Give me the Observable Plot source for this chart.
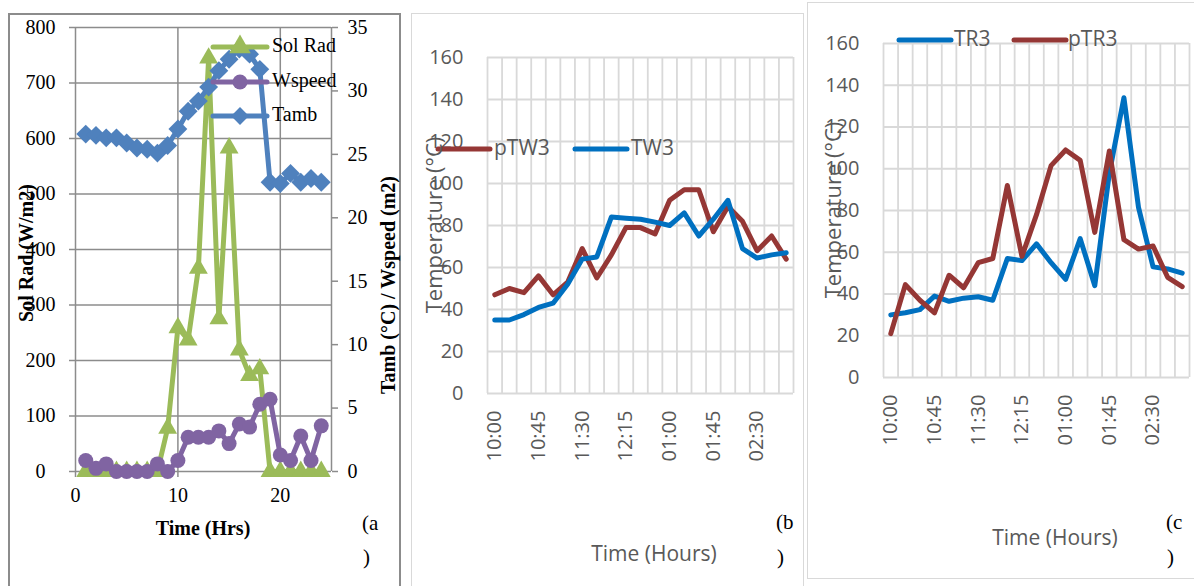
<!DOCTYPE html>
<html><head><meta charset="utf-8">
<script src="https://cdn.jsdelivr.net/npm/d3@7"></script>
<script src="https://cdn.jsdelivr.net/npm/@observablehq/plot@0.6"></script>
<style>
body{margin:0;background:#fff;}
#root{position:relative;width:1194px;height:586px;overflow:hidden;background:#fff}
.abs{position:absolute;white-space:nowrap}
.serif{font-family:"Liberation Serif","Times New Roman",serif;color:#000}
.sans{font-family:"Open Sans",sans-serif;color:#595959}
svg{overflow:visible}
</style></head><body><div id="root"></div><script>
// ---------- Panel (a) data ----------
const hours = d3.range(1, 25);
const solRad = [0,0,0,0,0,0,0,0,78,259,237,366,745,275,583,219,173,185,0,0,0,0,0,0];
const wspeed = [0.87,0.25,0.6,0,0,0,0,0.6,0,0.87,2.7,2.7,2.7,3.2,2.2,3.75,3.5,5.3,5.7,1.3,0.87,2.8,0.87,3.6];
const tamb = [26.6,26.5,26.3,26.3,25.9,25.5,25.4,25.1,25.7,27.0,28.4,29.2,30.3,31.6,32.5,33.3,32.9,31.7,22.8,22.7,23.5,22.8,23.1,22.8];
const leftTicks = [0,100,200,300,400,500,600,700,800];
const rightTicks = [0,5,10,15,20,25,30,35];
const xTicksA = [0,10,20];
// ---------- Panels (b),(c) data ----------
const timeLabels = ["10:00","10:15","10:30","10:45","11:00","11:15","11:30","11:45","12:00","12:15","12:30","12:45","01:00","01:15","01:30","01:45","02:00","02:15","02:30","02:45","03:00"];
const pTW3 = [47,50,48,56,47,53,69,55,66,79,79,76,92,97,97,77,89,82,68,75,64];
const TW3  = [35,35,37.6,41,43,52,64,65,84,83.5,83,81.6,80,86,75,83,92,69,64.5,66,67];
const TR3  = [30,31,32.5,39,36.5,38,38.7,37,57,56,64,55,47,66.5,44,98,134,81.5,53,52,50];
const pTR3 = [21,44.5,37,31,49,43,55,57,92,58,78,101.5,109,104,69.5,108.5,66,61.5,63,48,43.5];
const tempTicks = [0,20,40,60,80,100,120,140,160];

const root = document.getElementById("root");
function place(el, left, top){ el.style.position="absolute"; el.style.left=left+"px"; el.style.top=top+"px"; root.appendChild(el); return el; }
function label(text, cls, left, top, size, extra){ const d=document.createElement("div"); d.className="abs "+cls; d.textContent=text; d.style.left=left+"px"; d.style.top=top+"px"; d.style.fontSize=size+"px"; if(extra) Object.assign(d.style, extra); root.appendChild(d); return d; }
function box(left, top, w, h, color, width){ const d=document.createElement("div"); d.style.position="absolute"; d.style.left=left+"px"; d.style.top=top+"px"; d.style.width=w+"px"; d.style.height=h+"px"; d.style.border=width+"px solid "+color; d.style.boxSizing="border-box"; root.appendChild(d); }

// panel borders
box(8, 13, 393, 600, "#8c8c8c", 2);
box(411, 13, 393, 600, "#d9d9d9", 1.5);
box(807, 2, 400, 577, "#d9d9d9", 1.5);

// ---------- Panel (a) ----------
const K = 800/35;
const rowsA = hours.map((h,i)=>({h, sol: solRad[i], ws: wspeed[i]*K, ta: tamb[i]*K}));
const GREEN="#9BBB59", PURPLE="#8064A2", BLUE="#4F81BD";
const plotA = Plot.plot({
  width: 400, height: 586,
  marginLeft: 75, marginRight: 69, marginTop: 27, marginBottom: 115,
  x: {domain: [0, 25]},
  y: {domain: [0, 800]},
  style: {fontFamily: "Liberation Serif", fontSize: "20px", color: "#000", background: "transparent", overflow: "visible"},
  marks: [
    Plot.gridY(leftTicks, {stroke: "#8c8c8c", strokeOpacity: 1, strokeWidth: 1.5}),
    Plot.gridX(xTicksA, {stroke: "#8c8c8c", strokeOpacity: 1, strokeWidth: 1.5}),
    Plot.axisY(leftTicks, {anchor: "left", tickSize: 6, tickPadding: 29, textAnchor: "middle", stroke: "#8c8c8c", strokeWidth: 1.5, label: null, fill: "#000"}),
    Plot.axisY(rightTicks.map(v=>v*K), {anchor: "right", tickSize: 6, tickPadding: 10, tickFormat: d=>String(Math.round(d/K)), stroke: "#8c8c8c", strokeWidth: 1.5, label: null, fill: "#000"}),
    Plot.axisX(xTicksA, {tickSize: 6, tickPadding: 10, stroke: "#8c8c8c", strokeWidth: 1.5, label: null, fill: "#000"}),
    Plot.ruleX([25], {stroke: "#8c8c8c", strokeWidth: 1.5}),
    Plot.line(rowsA, {x: "h", y: "sol", stroke: GREEN, strokeWidth: 5}),
    Plot.dot(rowsA, {x: "h", y: "sol", symbol: "triangle", r: 7, fill: GREEN, stroke: "none"}),
    Plot.line(rowsA, {x: "h", y: "ws", stroke: PURPLE, strokeWidth: 5}),
    Plot.dot(rowsA, {x: "h", y: "ws", symbol: "circle", r: 7.5, fill: PURPLE, stroke: "none"}),
    Plot.line(rowsA, {x: "h", y: "ta", stroke: BLUE, strokeWidth: 5}),
    Plot.dot(rowsA, {x: "h", y: "ta", symbol: "diamond2", r: 8.5, fill: BLUE, stroke: "none"})
  ]
});
place(plotA, 0, 0);

// legend (a)
function legendSvg(color, symbol){
  const ns="http://www.w3.org/2000/svg";
  const s=document.createElementNS(ns,"svg"); s.setAttribute("width",60); s.setAttribute("height",20);
  const l=document.createElementNS(ns,"line"); l.setAttribute("x1",2); l.setAttribute("x2",56); l.setAttribute("y1",10); l.setAttribute("y2",10);
  l.setAttribute("stroke",color); l.setAttribute("stroke-width",5); l.setAttribute("stroke-linecap","round"); s.appendChild(l);
  if(symbol){ const p=document.createElementNS(ns,"path"); p.setAttribute("d", d3.symbol(symbol, symbol===d3.symbolCircle? Math.PI*7.5*7.5 : Math.PI*64)()); p.setAttribute("transform","translate(29,10)"); p.setAttribute("fill",color); s.appendChild(p);}
  return s;
}
place(legendSvg(GREEN, d3.symbolTriangle), 211, 37);
place(legendSvg(PURPLE, d3.symbolCircle), 211, 72);
place(legendSvg(BLUE, d3.symbolDiamond2), 211, 106);
label("Sol Rad","serif",272,34,20);
label("Wspeed","serif",272,69,20);
label("Tamb","serif",272,103,20);

label("Sol Rad (W/m2)","serif",26,253,20,{fontWeight:"bold",transform:"translate(-50%,-50%) rotate(-90deg)"});
label("Tamb (°C) / Wspeed (m2)","serif",388,285,20,{fontWeight:"bold",transform:"translate(-50%,-50%) rotate(-90deg)"});
label("Time (Hrs)","serif",203,528,20,{fontWeight:"bold",transform:"translate(-50%,-50%)"});
label("(a","serif",362,511,21);
label(")","serif",363,545,21);

// ---------- Panels (b) and (c) ----------
const RED="#953735", LBLUE="#0070C0";
function tempPlot(seriesList, w, mL, mR, mT, mB){
  const rows=[];
  seriesList.forEach(s=> s.values.forEach((v,i)=> rows.push({i, v, name: s.name})));
  const n = timeLabels.length;
  const tickIdx = d3.range(0, n, 3);
  return Plot.plot({
    width: w, height: 586,
    marginLeft: mL, marginRight: mR, marginTop: mT, marginBottom: mB,
    x: {domain: [-0.5, n-0.5]},
    y: {domain: [0, 160]},
    style: {fontFamily: "Open Sans", fontSize: "20px", color: "#595959", background: "transparent", overflow: "visible"},
    marks: [
      Plot.gridY(tempTicks, {stroke: "#d9d9d9", strokeOpacity: 1, strokeWidth: 1.8}),
      Plot.gridX(d3.range(0, n+1).map(k=>k-0.5), {stroke: "#d9d9d9", strokeOpacity: 1, strokeWidth: 1.8}),
      Plot.axisY(tempTicks, {tickSize: 0, tickPadding: 24, label: null, fill: "#595959"}),
      Plot.axisX(tickIdx, {tickSize: 0, tickPadding: 17, tickRotate: -90, tickFormat: i=>timeLabels[i], label: null, fill: "#595959"}),
      ...seriesList.map(s=> Plot.line(rows.filter(r=>r.name===s.name), {x: "i", y: "v", stroke: s.color, strokeWidth: 5, strokeLinejoin: "round", strokeLinecap: "round"}))
    ]
  });
}
const plotB = tempPlot([{name:"pTW3", values: pTW3, color: RED},{name:"TW3", values: TW3, color: LBLUE}], 400, 87, 7, 57, 193);
place(plotB, 400, 0);
const plotC = tempPlot([{name:"TR3", values: TR3, color: LBLUE},{name:"pTR3", values: pTR3, color: RED}], 394, 83, 5, 43, 209);
place(plotC, 800, 0);

function lineSvg(color, len){
  const ns="http://www.w3.org/2000/svg";
  const s=document.createElementNS(ns,"svg"); s.setAttribute("width",len+6); s.setAttribute("height",10);
  const l=document.createElementNS(ns,"line"); l.setAttribute("x1",3); l.setAttribute("x2",len+3); l.setAttribute("y1",5); l.setAttribute("y2",5);
  l.setAttribute("stroke",color); l.setAttribute("stroke-width",5); l.setAttribute("stroke-linecap","round"); s.appendChild(l);
  return s;
}
// legend (b)
place(lineSvg(RED, 52), 435, 144);
label("pTW3","sans",494,133,21);
place(lineSvg(LBLUE, 52), 572, 144);
label("TW3","sans",631,133,21);
// legend (c)
place(lineSvg(LBLUE, 52), 896, 35);
label("TR3","sans",954,24,21);
place(lineSvg(RED, 52), 1011, 35);
label("pTR3","sans",1068,24,21);

// titles (b),(c)
label("Temperature (°C)","sans",433,225,22,{transform:"translate(-50%,-50%) rotate(-90deg)"});
label("Time (Hours)","sans",654,553,21,{transform:"translate(-50%,-50%)"});
label("(b","serif",776,510,21);
label(")","serif",777,545,21);
label("Temperature (°C)","sans",832,210,22,{transform:"translate(-50%,-50%) rotate(-90deg)"});
label("Time (Hours)","sans",1055,537,21,{transform:"translate(-50%,-50%)"});
label("(c","serif",1166,510,21);
label(")","serif",1167,545,21);
</script></body></html>
